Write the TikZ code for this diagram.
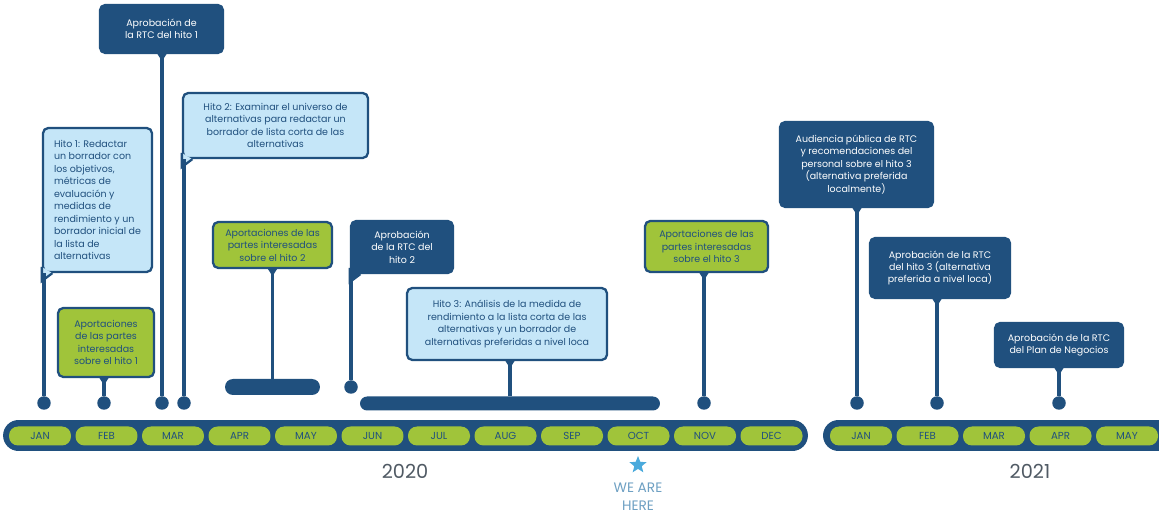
\documentclass[tikz,border=0pt]{standalone}
\usepackage{fontspec}
\setmainfont{Poppins}
\usepackage{tikz}
\usetikzlibrary{positioning, shapes.geometric, calc}
\definecolor{rtcnavy}{RGB}{32,80,126}
\definecolor{rtcgreen}{RGB}{160,196,58}
\definecolor{rtclight}{RGB}{197,230,248}
\definecolor{rtcstar}{RGB}{74,170,220}
\definecolor{rtchere}{RGB}{110,160,195}
\definecolor{rtcyear}{RGB}{80,90,100}

\begin{document}
\begin{tikzpicture}[x=0.02cm, y=-0.02cm,
    boxtext/.style={font=\fontsize{5.4}{7.1}\selectfont, align=center, inner sep=1pt, rounded corners=3pt, line width=1.3pt, draw=rtcnavy},
    darkbox/.style={boxtext, fill=rtcnavy, text=white},
    lightbox/.style={boxtext, fill=rtclight, text=rtcnavy},
    greenbox/.style={boxtext, fill=rtcgreen, text=rtcnavy},
    boxsize/.style 2 args={minimum width=#1*0.02cm, minimum height=#2*0.02cm},
    dot/.style={circle, fill=rtcnavy, minimum size=0.27cm, inner sep=0pt},
    stem/.style={rtcnavy, line width=2pt},
    bar/.style={fill=rtcnavy, inner sep=0pt},
    month/.style={fill=rtcgreen, rounded corners=0.18cm, minimum width=1.24cm, minimum height=0.38cm, inner sep=0pt, text=rtcnavy, font=\fontsize{5.8}{7}\selectfont},
    year/.style={text=rtcyear, font=\fontsize{11}{13}\selectfont},
    tail/.style={line width=1.3pt, draw=rtcnavy}
  ]

    \clip (0,0) rectangle (1159,519);
    \fill[white] (0,0) rectangle (1159,519);

    % Timeline bars
    \node[bar, rounded corners=0.31cm, minimum width=16.1cm, minimum height=0.62cm] (tl20) at (405.5,435.5) {};
    \node[bar, rounded corners=0.31cm, minimum width=7.2cm, minimum height=0.62cm] (tl21) at (1003,435.5) {};

    % Months
    \foreach \m [count=\i from 0] in {JAN,FEB,MAR,APR,MAY,JUN,JUL,AUG,SEP,OCT,NOV,DEC}
      \node[month] (m20-\i) at (40+66.5*\i,436) {\m};
    \foreach \m [count=\i from 0] in {JAN,FEB,MAR,APR,MAY}
      \node[month] (m21-\i) at (861+66.5*\i,436) {\m};

    % Years and marker
    \node[year] (y2020) at (405,471) {2020};
    \node[year] (y2021) at (1030,471) {2021};
    \node[star, star points=5, star point ratio=2.3, fill=rtcstar, minimum size=0.36cm, inner sep=0pt] (star) at (638,465) {};
    \node[text=rtchere, font=\fontsize{7.8}{10.2}\selectfont, align=center] (here) at (638,497) {WE ARE\\HERE};

    % Dots and bars on the timeline
    \node[dot] (dJan) at (44,403) {};
    \node[dot] (dFeb) at (104,403) {};
    \node[dot] (dMar) at (162,403) {};
    \node[dot] (dMarB) at (184,403) {};
    \node[dot] (dJun) at (351,387) {};
    \node[dot] (dNov) at (704,403) {};
    \node[dot] (dJanB) at (857,403) {};
    \node[dot] (dFebB) at (937,403) {};
    \node[dot] (dAprB) at (1059,403) {};
    \node[bar, rounded corners=0.16cm, minimum width=1.9cm, minimum height=0.32cm] (barAM) at (272.5,387) {};
    \node[bar, rounded corners=0.14cm, minimum width=6cm, minimum height=0.28cm] (barJO) at (510,403.5) {};

    % Boxes
    \node[darkbox, boxsize={123}{48}] (a1) at (161.5,29) {Aprobación de\\la RTC del hito 1};
    \node[lightbox, boxsize={109}{144}, align=left] (h1) at (97.5,200) {Hito 1: Redactar\\un borrador con\\los objetivos,\\métricas de\\evaluación y\\medidas de\\rendimiento y un\\borrador inicial de\\la lista de\\alternativas};
    \node[lightbox, boxsize={185}{65}] (h2) at (275.5,125.5) {Hito 2: Examinar el universo de\\alternativas para redactar un\\borrador de lista corta de las\\alternativas};
    \node[greenbox, boxsize={119}{46}] (aph2) at (272.5,245) {Aportaciones de las\\partes interesadas\\sobre el hito 2};
    \node[greenbox, boxsize={96}{69}] (aph1) at (106,342.5) {Aportaciones\\de las partes\\interesadas\\sobre el hito 1};
    \node[darkbox, boxsize={102}{52}] (a2) at (402,247) {Aprobación\\de la RTC del\\hito 2};
    \node[lightbox, boxsize={200}{72}] (h3) at (507,324) {Hito 3: Análisis de la medida de\\rendimiento a la lista corta de las\\alternativas y un borrador de\\alternativas preferidas a nivel loca};
    \node[greenbox, boxsize={123}{51}] (aph3) at (706.5,246.5) {Aportaciones de las\\partes interesadas\\sobre el hito 3};
    \node[darkbox, boxsize={153}{85}] (aud) at (856.5,164.5) {Audiencia pública de RTC\\y recomendaciones del\\personal sobre el hito 3\\(alternativa preferida\\localmente)};
    \node[darkbox, boxsize={140}{60}] (a3) at (940,268) {Aprobación de la RTC\\del hito 3 (alternativa\\preferida a nivel loca)};
    \node[darkbox, boxsize={128}{44}] (apn) at (1059,345) {Aprobación de la RTC\\del Plan de Negocios};

    % Tails at the lower left corner
    \foreach \b/\c in {h1/rtclight, h2/rtclight, a2/rtcnavy} {
      \fill[\c] ([yshift=3.5pt]\b.south west) -- ([yshift=-4.5pt]\b.south west) -- ([xshift=6pt]\b.south west) -- cycle;
      \draw[tail] ([yshift=3.5pt]\b.south west) -- ([yshift=-4.5pt]\b.south west) -- ([xshift=6pt]\b.south west);
    }

    % Pointers below the boxes
    \foreach \b/\d in {a1/dMar, aph1/dFeb, aph2/barAM, h3/barJO, aph3/dNov, aud/dJanB, a3/dFebB, apn/dAprB}
      \fill[rtcnavy] ($(\d |- \b.south)+(-4.5,0)$) -- ($(\d |- \b.south)+(4.5,0)$) -- ($(\d |- \b.south)+(0,7)$) -- cycle;

    % Stems
    \draw[stem] (dJan) -- (dJan |- h1.south);
    \draw[stem] (dFeb) -- (dFeb |- aph1.south);
    \draw[stem] (dMar) -- (dMar |- a1.south);
    \draw[stem] (dMarB) -- (dMarB |- h2.south);
    \draw[stem] (barAM) -- (barAM |- aph2.south);
    \draw[stem] (dJun) -- (dJun |- a2.south);
    \draw[stem] (barJO) -- (barJO |- h3.south);
    \draw[stem] (dNov) -- (dNov |- aph3.south);
    \draw[stem] (dJanB) -- (dJanB |- aud.south);
    \draw[stem] (dFebB) -- (dFebB |- a3.south);
    \draw[stem] (dAprB) -- (dAprB |- apn.south);

  \end{tikzpicture}
\end{document}
